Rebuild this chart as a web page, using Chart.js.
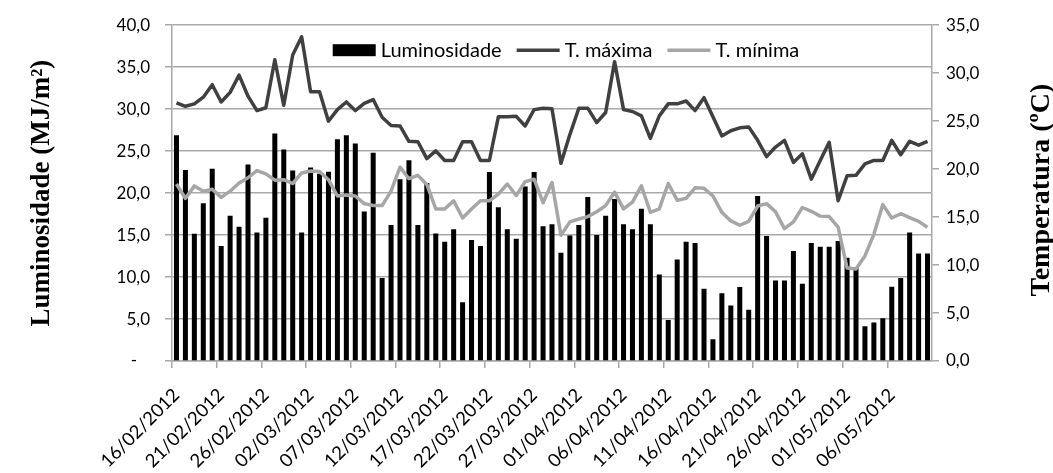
<!DOCTYPE html>
<html>
<head>
<meta charset="utf-8">
<script src="https://cdn.jsdelivr.net/npm/chart.js@4/dist/chart.umd.min.js"></script>
<style>
html,body{margin:0;padding:0;background:#ffffff;}
#wrap{width:1053px;height:473px;position:relative;}
</style>
</head>
<body>
<div id="wrap"><canvas id="c" width="1053" height="473"></canvas></div>
<script>
// ---------- DATA ----------
const categories = [
 "16/02/2012","17/02/2012","18/02/2012","19/02/2012","20/02/2012","21/02/2012","22/02/2012","23/02/2012","24/02/2012","25/02/2012",
 "26/02/2012","27/02/2012","28/02/2012","29/02/2012","01/03/2012","02/03/2012","03/03/2012","04/03/2012","05/03/2012","06/03/2012",
 "07/03/2012","08/03/2012","09/03/2012","10/03/2012","11/03/2012","12/03/2012","13/03/2012","14/03/2012","15/03/2012","16/03/2012",
 "17/03/2012","18/03/2012","19/03/2012","20/03/2012","21/03/2012","22/03/2012","23/03/2012","24/03/2012","25/03/2012","26/03/2012",
 "27/03/2012","28/03/2012","29/03/2012","30/03/2012","31/03/2012","01/04/2012","02/04/2012","03/04/2012","04/04/2012","05/04/2012",
 "06/04/2012","07/04/2012","08/04/2012","09/04/2012","10/04/2012","11/04/2012","12/04/2012","13/04/2012","14/04/2012","15/04/2012",
 "16/04/2012","17/04/2012","18/04/2012","19/04/2012","20/04/2012","21/04/2012","22/04/2012","23/04/2012","24/04/2012","25/04/2012",
 "26/04/2012","27/04/2012","28/04/2012","29/04/2012","30/04/2012","01/05/2012","02/05/2012","03/05/2012","04/05/2012","05/05/2012",
 "06/05/2012","07/05/2012","08/05/2012","09/05/2012","10/05/2012"
];

// Luminosidade (MJ/m²) - left axis
const luminosidade = [
 26.9,22.75,15.15,18.8,22.9,13.7,17.3,16.0,23.4,15.3,
 17.05,27.1,25.2,22.7,15.3,23.05,22.3,22.55,26.4,26.9,
 25.9,17.8,24.8,9.9,16.2,21.65,23.9,16.2,21.2,15.2,
 14.2,15.7,7.0,14.4,13.7,22.5,18.3,15.7,14.55,20.8,
 22.5,16.05,16.3,12.9,14.95,16.2,19.55,15.0,17.3,19.3,
 16.3,15.7,18.15,16.3,10.3,4.87,12.1,14.2,14.05,8.6,
 2.6,8.07,6.6,8.8,6.1,19.65,14.9,9.6,9.6,13.1,
 9.2,14.05,13.6,13.6,14.3,12.3,11.2,4.15,4.6,5.1,
 8.85,9.9,15.3,12.8,12.8
];

// T. máxima (ºC) - right axis
const tMaxima = [
 26.9,26.55,26.8,27.5,28.8,27.0,28.0,29.8,27.6,26.1,
 26.4,31.4,26.65,31.9,33.8,28.07,28.07,25.0,26.2,27.0,
 26.1,26.85,27.25,25.4,24.55,24.5,22.9,22.85,21.1,21.9,
 20.9,20.9,22.85,22.85,20.9,20.9,25.45,25.45,25.5,24.5,
 26.2,26.35,26.3,20.6,23.6,26.35,26.35,24.85,25.9,31.2,
 26.2,26.0,25.55,23.2,25.55,26.8,26.8,27.1,26.1,27.45,
 25.45,23.45,24.0,24.3,24.4,23.0,21.3,22.3,23.0,20.7,
 21.6,18.95,20.9,22.8,16.7,19.3,19.35,20.55,20.9,20.9,
 23.0,21.5,22.9,22.5,22.9
];

// T. mínima (ºC) - right axis
const tMinima = [
 18.45,16.95,18.25,17.7,17.9,17.05,17.7,18.55,19.1,19.85,
 19.5,18.85,18.9,18.5,19.6,19.8,19.75,18.9,17.2,17.3,
 17.2,16.4,16.2,16.2,17.7,20.2,19.0,19.35,18.4,15.85,
 15.85,16.7,14.9,15.85,16.7,16.7,17.4,18.45,17.25,18.7,
 18.95,16.5,18.6,13.1,14.5,14.8,15.05,15.55,16.2,17.6,
 15.85,16.55,18.25,15.5,15.85,18.5,16.75,16.95,18.05,18.0,
 17.2,15.5,14.6,14.15,14.55,16.15,16.4,15.55,13.8,14.5,
 16.0,15.6,15.1,15.05,13.95,9.7,9.6,10.95,13.2,16.3,
 14.9,15.35,14.95,14.55,13.95
];

const seriesNames = ["Luminosidade", "T. máxima", "T. mínima"];
const axisTitles = ["Luminosidade (MJ/m²)", "Temperatura (ºC)"];
const leftAxisRange = [0, 40, 5];
const rightAxisRange = [0, 35, 5];
const labelEvery = 5;

// ---------- STYLE ----------
const GRID = '#a9a9a9';
const C_LUM = '#000000';
const C_TMAX = '#404040';
const C_TMIN = '#a6a6a6';
const TICK_FONT = {family: 'Lato', size: 17};
const X_FONT = {family: 'Lato', size: 18.5};
const fmt = v => v.toFixed(1).replace('.', ',');

const titlePlugin = {
  id: 'axisTitles',
  afterDraw(chart) {
    const ctx = chart.ctx, ca = chart.chartArea;
    const cy = (ca.top + ca.bottom) / 2;
    ctx.save();
    ctx.fillStyle = '#000';
    ctx.font = 'bold 27px "Liberation Serif"';
    ctx.textAlign = 'center';
    ctx.textBaseline = 'middle';
    ctx.save();
    ctx.translate(ca.left - 130, cy);
    ctx.rotate(-Math.PI / 2);
    ctx.fillText(axisTitles[0], 0, 0);
    ctx.restore();
    ctx.save();
    ctx.translate(ca.right + 110, cy - 3);
    ctx.rotate(-Math.PI / 2);
    ctx.font = 'bold 28px "Liberation Serif"';
    ctx.fillText(axisTitles[1], 0, 0);
    ctx.restore();
    ctx.restore();
  }
};

const legendPlugin = {
  id: 'insideLegend',
  afterDatasetsDraw(chart) {
    const ctx = chart.ctx, ca = chart.chartArea;
    ctx.save();
    ctx.font = '20px Lato';
    const items = [
      {text: seriesNames[0], type: 'rect', color: C_LUM},
      {text: seriesNames[1], type: 'line', color: C_TMAX},
      {text: seriesNames[2], type: 'line', color: C_TMIN}
    ];
    const markerW = 43, gapText = 5, gapItem = 15;
    let total = 0;
    items.forEach((it, i) => { it.w = ctx.measureText(it.text).width; total += markerW + gapText + it.w + (i ? gapItem : 0); });
    let x = ca.left + 394 - total / 2;
    const y = ca.top + 25;
    ctx.textBaseline = 'middle';
    ctx.textAlign = 'left';
    items.forEach((it, i) => {
      if (i) x += gapItem;
      if (it.type === 'rect') {
        ctx.fillStyle = it.color;
        ctx.fillRect(x, y - 6, markerW, 12);
      } else {
        ctx.strokeStyle = it.color;
        ctx.lineWidth = 3.5;
        ctx.beginPath();
        ctx.moveTo(x, y);
        ctx.lineTo(x + markerW, y);
        ctx.stroke();
      }
      x += markerW + gapText;
      ctx.fillStyle = '#000';
      ctx.fillText(it.text, x, y);
      x += it.w;
    });
    ctx.restore();
  }
};

const everyFifth = ctx => (ctx.index % labelEvery === 0 ? GRID : 'rgba(0,0,0,0)');

new Chart(document.getElementById('c'), {
  data: {
    labels: categories,
    datasets: [
      {type: 'line', label: seriesNames[1], data: tMaxima, yAxisID: 'y1', borderColor: C_TMAX, backgroundColor: C_TMAX,
       borderWidth: 3.5, pointRadius: 0, tension: 0, borderJoinStyle: 'round', order: 1},
      {type: 'line', label: seriesNames[2], data: tMinima, yAxisID: 'y1', borderColor: C_TMIN, backgroundColor: C_TMIN,
       borderWidth: 3.5, pointRadius: 0, tension: 0, borderJoinStyle: 'round', order: 2},
      {type: 'bar', label: seriesNames[0], data: luminosidade, yAxisID: 'y', backgroundColor: C_LUM, borderWidth: 0,
       barPercentage: 0.56, categoryPercentage: 1.0, order: 3}
    ]
  },
  options: {
    responsive: false,
    animation: false,
    devicePixelRatio: 1,
    layout: {padding: {top: 24, left: 0, right: 0, bottom: 0}},
    plugins: {legend: {display: false}, tooltip: {enabled: false}},
    scales: {
      x: {
        type: 'category',
        offset: true,
        grid: {offset: true, drawOnChartArea: false, drawTicks: true, tickLength: 7, color: everyFifth, tickColor: everyFifth, lineWidth: 1.5},
        border: {color: GRID, width: 1.5},
        ticks: {
          autoSkip: false, minRotation: 45, maxRotation: 45, padding: 16, color: '#000', font: X_FONT,
          callback: function (v, i) { return i % labelEvery === 0 ? categories[i] : ''; }
        },
        afterFit: s => { s.height = 112; }
      },
      y: {
        position: 'left', min: leftAxisRange[0], max: leftAxisRange[1],
        ticks: {stepSize: leftAxisRange[2], color: '#000', font: TICK_FONT, padding: 15,
          callback: v => (v === 0 ? '-   ' : fmt(v))},
        grid: {color: GRID, lineWidth: 1.5, tickLength: 7, drawTicks: true},
        border: {color: GRID, width: 1.5},
        afterFit: s => { s.width = 172; }
      },
      y1: {
        position: 'right', min: rightAxisRange[0], max: rightAxisRange[1],
        ticks: {stepSize: rightAxisRange[2], color: '#000', font: TICK_FONT, padding: 7, callback: v => fmt(v)},
        grid: {drawOnChartArea: false, color: GRID, lineWidth: 1.5, tickLength: 7, drawTicks: true},
        border: {color: GRID, width: 1.5},
        afterFit: s => { s.width = 121; }
      }
    }
  },
  plugins: [legendPlugin, titlePlugin]
});
</script>
</body>
</html>
